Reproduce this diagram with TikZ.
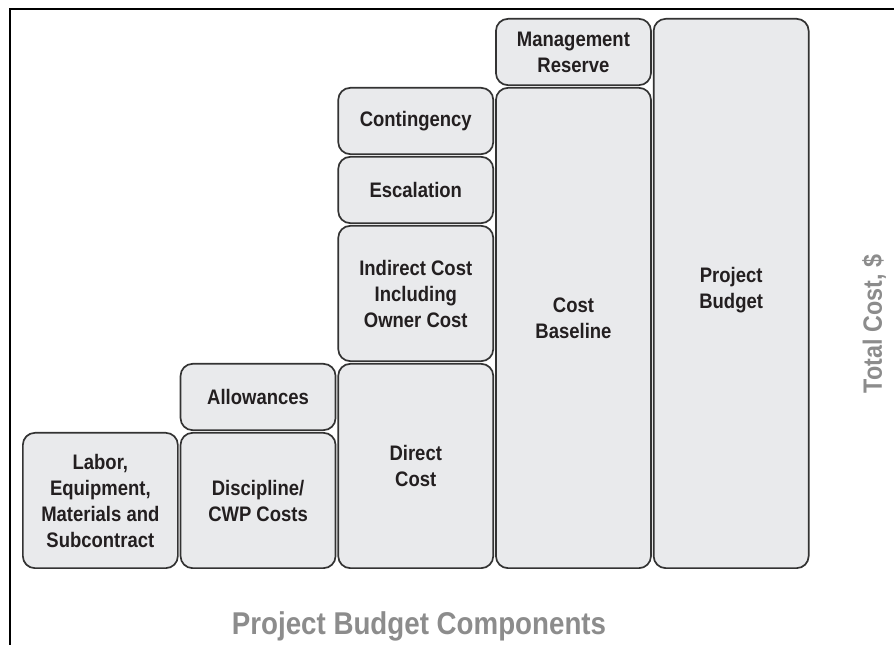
\documentclass[tikz,border=0pt]{standalone}
\usepackage{fontspec}
\newfontfamily\boxfont{Liberation Sans}[FakeStretch=0.88]
\usetikzlibrary{positioning}

\definecolor{boxfill}{HTML}{E9EAEC}
\definecolor{boxline}{HTML}{333333}
\definecolor{boxtext}{HTML}{231F20}
\definecolor{titlegray}{HTML}{8C8C8C}

\tikzset{
  box/.style={draw=boxline, fill=boxfill, line width=1.7pt, rounded corners=12pt,
    minimum width=155pt, align=center, text=boxtext, inner sep=2pt,
    font=\boxfont\bfseries\fontsize{21}{26}\selectfont},
  u1/.style={minimum height=66.3pt},
  u2/.style={minimum height=135.3pt},
  u3/.style={minimum height=204.3pt},
  u7/.style={minimum height=480.3pt},
  u8/.style={minimum height=549.3pt},
  axistitle/.style={text=titlegray, font=\boxfont\bfseries\fontsize{#1}{#1}\selectfont},
}

\begin{document}
\begin{tikzpicture}[x=1pt, y=1pt, node distance=1pt]

    \useasboundingbox (0,0) rectangle (894,645);

    % Frame
    \draw[line width=1.5pt] (10,0) -- (10,636) -- (894,636);

    % Define nodes, column by column
    \node[box, u2, anchor=south west] (labor) at (22,76) {Labor,\\Equipment,\\Materials and\\Subcontract};
    \node[box, u2, right=of labor]                            (disc) {Discipline/\\CWP Costs};
    \node[box, u1, above=of disc]                            (allow) {Allowances};
    \node[box, u3, right=of disc.south east, anchor=south west] (direct) {Direct\\Cost};
    \node[box, u2, above=of direct]                       (indirect) {Indirect Cost\\Including\\Owner Cost};
    \node[box, u1, above=of indirect]                        (escal) {Escalation};
    \node[box, u1, above=of escal]                          (conting) {Contingency};
    \node[box, u7, right=of direct.south east, anchor=south west, text depth=20pt] (baseline) {Cost\\Baseline};
    \node[box, u1, above=of baseline]                      (reserve) {Management\\Reserve};
    \node[box, u8, right=of baseline.south east, anchor=south west, text depth=12pt] (budget) {Project\\Budget};

    % Axis titles
    \node[axistitle=31.5, anchor=base] (title) at (419,10) {Project Budget Components};
    \node[axistitle=26.5, rotate=90]   (total) at (874,321) {Total Cost, \$};

\end{tikzpicture}
\end{document}
